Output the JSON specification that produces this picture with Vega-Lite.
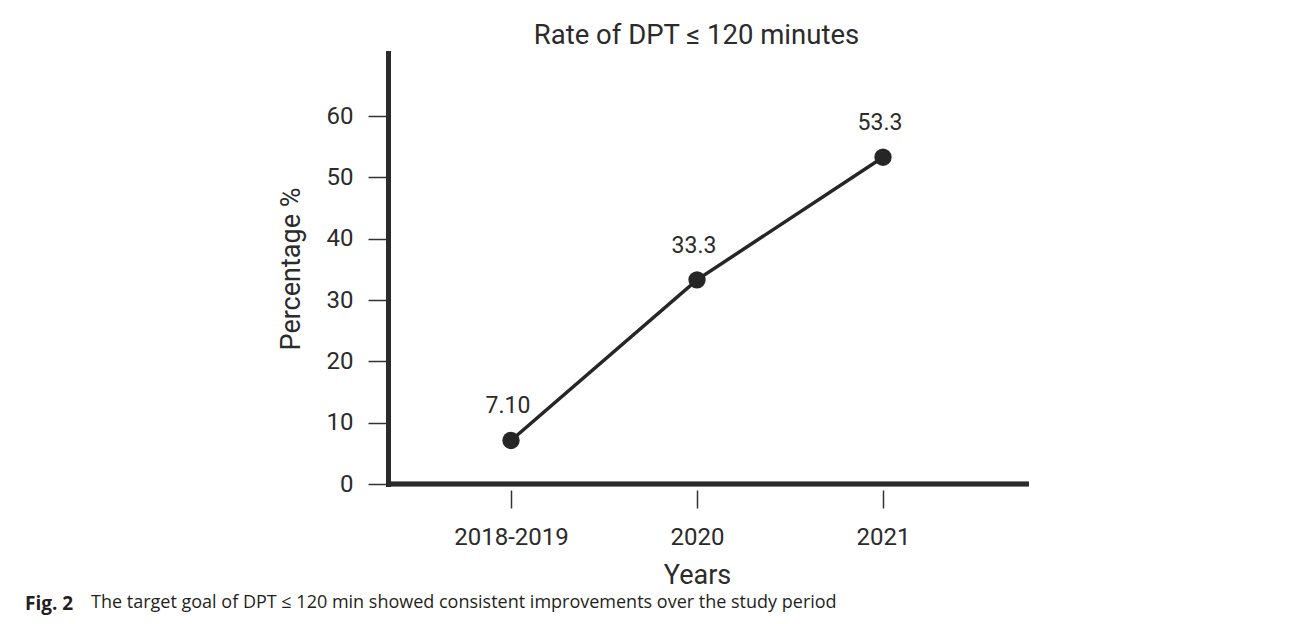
{
  "$schema": "https://vega.github.io/schema/vega-lite/v6.json",
  "padding": {"left": 25, "top": 21, "right": 10, "bottom": 3},
  "background": "white",
  "config": {
    "font": "Roboto",
    "view": {"stroke": null},
    "concat": {"spacing": 0}
  },
  "title": {
    "text": "Fig. 2",
    "orient": "bottom",
    "anchor": "start",
    "font": "Open Sans",
    "fontSize": 19,
    "fontWeight": "bold",
    "color": "#231f20",
    "dx": -66,
    "dy": -17,
    "offset": 0
  },
  "vconcat": [
    {
      "title": {
        "text": "The target goal of DPT ≤ 120 min showed consistent improvements over the study period",
        "orient": "bottom",
        "anchor": "start",
        "font": "Open Sans",
        "fontSize": 18,
        "fontWeight": "normal",
        "color": "#231f20",
        "dx": -186,
        "dy": 2,
        "offset": 4
      },
      "vconcat": [
        {
          "title": {
            "text": "Rate of DPT ≤ 120 minutes",
            "orient": "top",
            "anchor": "middle",
            "frame": "group",
            "font": "Roboto",
            "fontSize": 27.5,
            "fontWeight": "normal",
            "color": "#2b2b2b",
            "dx": -12,
            "offset": 4
          },
          "width": 641,
          "height": 431,
          "data": {
            "values": [
              {"period": "2018-2019", "rate": 7.1, "label": "7.10"},
              {"period": "2020", "rate": 33.3, "label": "33.3"},
              {"period": "2021", "rate": 53.3, "label": "53.3"}
            ]
          },
          "encoding": {
            "x": {
              "field": "period",
              "type": "ordinal",
              "sort": null,
              "scale": {"type": "point", "range": [123, 495], "padding": 0},
              "axis": {
                "title": "Years",
                "domain": false,
                "offset": 6,
                "tickSize": 18,
                "tickWidth": 1.5,
                "tickColor": "#333333",
                "labelAngle": 0,
                "labelFont": "Roboto",
                "labelFontSize": 24,
                "labelColor": "#2b2b2b",
                "labelPadding": 17,
                "titleFont": "Roboto",
                "titleFontSize": 27,
                "titleFontWeight": "normal",
                "titleColor": "#2b2b2b",
                "titlePadding": 13,
                "grid": false
              }
            },
            "y": {
              "field": "rate",
              "type": "quantitative",
              "scale": {"domain": [0, 70.3], "nice": false, "zero": true},
              "axis": {
                "title": "Percentage %",
                "values": [0, 10, 20, 30, 40, 50, 60],
                "domainWidth": 5,
                "domainColor": "#2b2b2b",
                "domainCap": "square",
                "tickSize": 20,
                "tickWidth": 1.5,
                "tickColor": "#333333",
                "labelFont": "Roboto",
                "labelFontSize": 24,
                "labelColor": "#2b2b2b",
                "labelPadding": 15,
                "titleFont": "Roboto",
                "titleFontSize": 27,
                "titleFontWeight": "normal",
                "titleColor": "#2b2b2b",
                "titlePadding": 21,
                "grid": false
              }
            }
          },
          "layer": [
            {
              "mark": {"type": "rule", "color": "#2b2b2b", "strokeWidth": 4.5},
              "encoding": {"x": null, "y": {"datum": 0, "type": "quantitative"}}
            },
            {
              "mark": {"type": "line", "color": "#262626", "strokeWidth": 3.5}
            },
            {
              "mark": {"type": "point", "filled": true, "color": "#262626", "opacity": 1, "size": 300}
            },
            {
              "mark": {"type": "text", "font": "Roboto", "fontSize": 23, "color": "#2b2b2b", "dy": -27, "dx": -3, "baseline": "alphabetic"},
              "encoding": {"text": {"field": "label"}}
            }
          ]
        }
      ]
    }
  ]
}
